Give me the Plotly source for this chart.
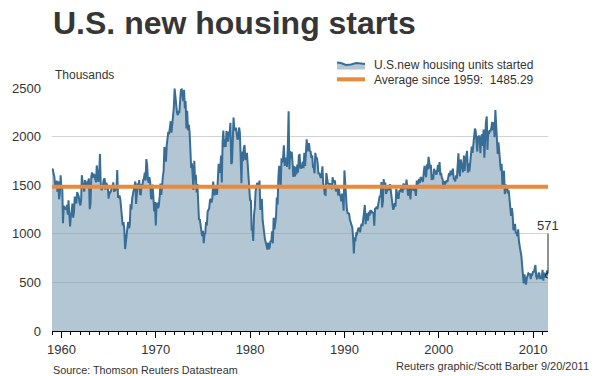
import pandas as pd
import plotly.graph_objects as go

# Monthly U.S. housing starts, thousands of units (SAAR), Jan 1959 - Aug 2011
starts = [
    1657, 1667, 1620, 1590, 1498, 1503, 1547, 1430, 1540, 1355, 1416, 1601,  # 1959
    1460, 1503, 1109, 1289, 1266, 1260, 1250, 1297, 1197, 1344, 1097, 1077,  # 1960
    1183, 1226, 1312, 1166, 1228, 1382, 1335, 1312, 1429, 1415, 1385, 1324,  # 1961
    1292, 1342, 1603, 1529, 1464, 1434, 1551, 1532, 1473, 1507, 1556, 1569,  # 1962
    1253, 1313, 1586, 1631, 1575, 1616, 1603, 1567, 1529, 1703, 1562, 1534,  # 1963
    1603, 1820, 1517, 1448, 1467, 1550, 1562, 1569, 1455, 1524, 1486, 1484,  # 1964
    1361, 1433, 1423, 1438, 1478, 1488, 1529, 1432, 1482, 1452, 1460, 1656,  # 1965
    1370, 1378, 1394, 1352, 1265, 1194, 1086, 1119, 1046, 843, 961, 990,     # 1966
    1067, 1123, 1056, 1091, 1304, 1248, 1364, 1407, 1421, 1491, 1538, 1308,  # 1967
    1380, 1520, 1466, 1554, 1408, 1405, 1512, 1495, 1556, 1569, 1630, 1548,  # 1968
    1769, 1705, 1561, 1524, 1583, 1528, 1368, 1358, 1507, 1381, 1229, 1327,  # 1969
    1085, 1305, 1319, 1264, 1290, 1385, 1517, 1399, 1534, 1580, 1647, 1893,  # 1970
    1828, 1741, 1910, 1986, 2049, 2026, 2083, 2158, 2041, 2128, 2182, 2295,  # 1971
    2494, 2390, 2334, 2249, 2221, 2254, 2252, 2382, 2481, 2485, 2421, 2366,  # 1972
    2481, 2289, 2365, 2084, 2266, 2067, 2123, 2051, 1874, 1677, 1724, 1526,  # 1973
    1451, 1752, 1555, 1607, 1426, 1513, 1316, 1142, 1150, 1070, 1026, 975,   # 1974
    1032, 904, 993, 1005, 1121, 1087, 1226, 1260, 1264, 1344, 1360, 1321,    # 1975
    1367, 1538, 1421, 1395, 1459, 1495, 1401, 1550, 1720, 1629, 1641, 1804,  # 1976
    1527, 1943, 2063, 1892, 1971, 1893, 2058, 2020, 1949, 2042, 2042, 2142,  # 1977
    1718, 1738, 2032, 2197, 2075, 2070, 2092, 1996, 1970, 1981, 2094, 2044,  # 1978
    1630, 1520, 1847, 1748, 1876, 1913, 1760, 1778, 1832, 1681, 1524, 1498,  # 1979
    1341, 1350, 1047, 1051, 927, 1196, 1269, 1436, 1471, 1523, 1510, 1482,   # 1980
    1547, 1246, 1306, 1360, 1140, 1045, 1041, 940, 911, 873, 837, 910,       # 1981
    843, 866, 931, 917, 1025, 902, 1166, 1046, 1144, 1173, 1372, 1303,       # 1982
    1586, 1699, 1606, 1472, 1776, 1733, 1785, 1910, 1710, 1715, 1785, 1688,  # 1983
    1897, 2260, 1663, 1851, 1774, 1843, 1732, 1586, 1698, 1590, 1689, 1612,  # 1984
    1711, 1632, 1800, 1821, 1680, 1676, 1684, 1743, 1676, 1834, 1698, 1942,  # 1985
    1972, 1848, 1876, 1933, 1854, 1847, 1782, 1807, 1687, 1681, 1623, 1833,  # 1986
    1774, 1784, 1726, 1614, 1628, 1594, 1575, 1605, 1695, 1515, 1487, 1406,  # 1987
    1401, 1625, 1556, 1519, 1516, 1509, 1518, 1496, 1458, 1582, 1528, 1544,  # 1988
    1541, 1435, 1454, 1491, 1395, 1467, 1397, 1395, 1335, 1413, 1346, 1237,  # 1989
    1652, 1462, 1299, 1267, 1214, 1212, 1206, 1143, 1109, 1073, 1066, 971,   # 1990
    798, 965, 921, 1001, 996, 1036, 1063, 1049, 1015, 1079, 1103, 1079,      # 1991
    1176, 1250, 1297, 1099, 1214, 1145, 1139, 1226, 1186, 1244, 1214, 1227,  # 1992
    1210, 1210, 1083, 1258, 1260, 1280, 1254, 1300, 1343, 1392, 1376, 1533,  # 1993
    1272, 1337, 1564, 1465, 1526, 1409, 1439, 1450, 1474, 1450, 1511, 1455,  # 1994
    1407, 1316, 1249, 1267, 1314, 1281, 1461, 1416, 1369, 1369, 1452, 1431,  # 1995
    1467, 1491, 1424, 1516, 1504, 1467, 1472, 1557, 1475, 1392, 1489, 1370,  # 1996
    1355, 1486, 1457, 1492, 1442, 1494, 1437, 1390, 1546, 1520, 1510, 1566,  # 1997
    1525, 1584, 1567, 1540, 1536, 1641, 1698, 1614, 1582, 1715, 1660, 1792,  # 1998
    1748, 1670, 1710, 1553, 1611, 1559, 1669, 1648, 1635, 1608, 1648, 1708,  # 1999
    1636, 1737, 1604, 1626, 1575, 1559, 1463, 1541, 1507, 1549, 1551, 1532,  # 2000
    1600, 1625, 1590, 1649, 1605, 1636, 1670, 1567, 1562, 1540, 1602, 1568,  # 2001
    1698, 1829, 1642, 1592, 1764, 1717, 1655, 1633, 1804, 1648, 1753, 1788,  # 2002
    1853, 1629, 1726, 1643, 1751, 1867, 1897, 1833, 1939, 1967, 2083, 2057,  # 2003
    1911, 1846, 1998, 2003, 1981, 1828, 2002, 2024, 1905, 2072, 1782, 2042,  # 2004
    2144, 2207, 1864, 2061, 2025, 2068, 2054, 2095, 2151, 2065, 2147, 1994,  # 2005
    2273, 2119, 1969, 1821, 1942, 1802, 1737, 1650, 1720, 1491, 1570, 1649,  # 2006
    1409, 1480, 1495, 1490, 1415, 1448, 1354, 1330, 1183, 1264, 1197, 1037,  # 2007
    1084, 1103, 1005, 1013, 973, 1046, 923, 844, 820, 777, 652, 560,         # 2008
    490, 582, 505, 478, 540, 585, 594, 586, 585, 534, 588, 581,              # 2009
    614, 604, 636, 679, 562, 540, 546, 599, 592, 543, 545, 539,              # 2010
    630, 517, 600, 554, 561, 608, 623, 571,                                   # 2011
]
start_month = "1959-01-01"
average_since_1959 = 1485.29

y_ticks = [0, 500, 1000, 1500, 2000, 2500]
x_tick_years = ["1960", "1970", "1980", "1990", "2000", "2010"]

title_text = "U.S. new housing starts"
unit_text = "Thousands"
legend_series = "U.S.new housing units started"
legend_avg = "Average since 1959:\u00a0\u00a0" + f"{average_since_1959:.2f}"
source_text = "Source: Thomson Reuters Datastream"
credit_text = "Reuters graphic/Scott Barber 9/20/2011"

dates = pd.date_range(start_month, periods=len(starts), freq="MS")

W, H = 600, 376
L, R, T, B = 52, 52, 88, 45
PW, PH = W - L - R, H - T - B

def px(xp):
    return (xp - L) / PW

def py(yp):
    return (H - B - yp) / PH

FONT = "Arial, 'Liberation Sans', sans-serif"
TXT = "#333333"
LINE_BLUE = "#386d95"
FILL = "rgba(128,160,184,0.6)"
ORANGE = "#e9893b"

fig = go.Figure()
fig.add_trace(go.Scatter(
    x=dates, y=starts, mode="lines", fill="tozeroy",
    fillcolor=FILL, line=dict(color=LINE_BLUE, width=2), hoverinfo="skip",
))
fig.add_trace(go.Scatter(
    x=[dates[0], dates[-1]], y=[average_since_1959, average_since_1959],
    mode="lines", line=dict(color=ORANGE, width=4), hoverinfo="skip",
))
fig.add_trace(go.Scatter(
    x=[dates[-1]], y=[starts[-1]], mode="markers",
    marker=dict(symbol="circle-open", size=5, color="#222222", line=dict(width=1)),
    hoverinfo="skip",
))

wave = (f"M{px(337)},{py(62.5)} L{px(341)},{py(63)} L{px(346)},{py(65)} "
        f"L{px(351)},{py(64.5)} L{px(356)},{py(63)} L{px(361)},{py(63.5)} "
        f"L{px(365)},{py(64)}")
shapes = [
    dict(type="path", xref="paper", yref="paper",
         path=wave + f" L{px(365)},{py(69.5)} L{px(337)},{py(69.5)} Z",
         fillcolor="#b4c6d4", line=dict(width=0)),
    dict(type="path", xref="paper", yref="paper", path=wave,
         line=dict(color=LINE_BLUE, width=2)),
    dict(type="line", xref="paper", yref="paper",
         x0=px(337), x1=px(365), y0=py(79.3), y1=py(79.3),
         line=dict(color=ORANGE, width=4)),
]

annotations = [
    dict(text=unit_text, xref="paper", yref="paper", x=px(53), y=py(75),
         xanchor="left", yanchor="middle", showarrow=False,
         font=dict(family=FONT, size=12, color=TXT)),
    dict(text=legend_series, xref="paper", yref="paper", x=px(372), y=py(65),
         xanchor="left", yanchor="middle", showarrow=False,
         font=dict(family=FONT, size=12, color=TXT)),
    dict(text=legend_avg, xref="paper", yref="paper", x=px(372), y=py(79.5),
         xanchor="left", yanchor="middle", showarrow=False,
         font=dict(family=FONT, size=12, color=TXT)),
    dict(text=source_text, xref="paper", yref="paper", x=px(51), y=py(370),
         xanchor="left", yanchor="middle", showarrow=False,
         font=dict(family=FONT, size=10.8, color=TXT)),
    dict(text=credit_text, xref="paper", yref="paper", x=px(591), y=py(365.5),
         xanchor="right", yanchor="middle", showarrow=False,
         font=dict(family=FONT, size=11, color=TXT)),
    dict(text=str(starts[-1]), x=dates[-1], y=starts[-1], xref="x", yref="y",
         showarrow=True, arrowhead=0, arrowwidth=1, arrowcolor="#222222",
         ax=0, ay=-42, standoff=2, yanchor="bottom", xanchor="center",
         font=dict(family=FONT, size=13, color=TXT), borderpad=0),
]

fig.update_layout(
    width=W, height=H,
    margin=dict(l=L, r=R, t=T, b=B, pad=0),
    paper_bgcolor="white", plot_bgcolor="white",
    showlegend=False,
    title=dict(text=title_text, x=53 / W, xanchor="left", y=1 - 23 / H,
               yanchor="middle", xref="container", yref="container",
               font=dict(family=FONT, size=32, color="#363636", weight="bold")),
    shapes=shapes, annotations=annotations,
    xaxis=dict(
        type="date", range=[dates[0], dates[-1]],
        tickmode="array", tickvals=[pd.Timestamp(f"{y}-01-01") for y in x_tick_years],
        ticktext=x_tick_years,
        ticks="outside", ticklen=6, tickcolor="#000000", tickwidth=1,
        showline=True, linecolor="#000000", linewidth=1,
        showgrid=False, zeroline=False,
        minor=dict(dtick="M12", tick0="1960-01-01", ticks="outside", ticklen=3,
                   tickcolor="#000000", tickwidth=1, showgrid=False),
        tickfont=dict(family=FONT, size=13, color=TXT),
        fixedrange=True,
    ),
    yaxis=dict(
        range=[0, 2500], tickmode="array", tickvals=y_ticks,
        ticktext=[str(v) for v in y_ticks],
        showgrid=True, gridcolor="#d2d2d2", gridwidth=1,
        zeroline=False, showline=False, ticks="",
        ticklabelstandoff=10,
        tickfont=dict(family=FONT, size=13, color=TXT),
        fixedrange=True,
    ),
)

fig.write_html(
    "out.html",
    config={"displayModeBar": False},
    post_script="document.body.style.margin='0px';document.body.style.overflow='hidden';",
)
